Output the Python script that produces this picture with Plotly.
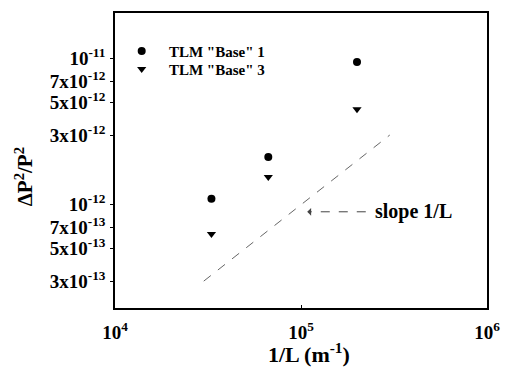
import math
import plotly.graph_objects as go

inv_L = [3.3e4, 6.67e4, 2.0e5]
base1 = [1.1e-12, 2.12e-12, 9.5e-12]
base3 = [6.3e-13, 1.55e-12, 4.5e-12]
slope_x = [3.0e4, 3.0e5]
slope_y = [3.0e-13, 3.0e-12]

y_tickvals = [1e-11, 7e-12, 5e-12, 3e-12, 1e-12, 7e-13, 5e-13, 3e-13]
y_ticktext = ["10<sup>-11</sup>", "7x10<sup>-12</sup>", "5x10<sup>-12</sup>", "3x10<sup>-12</sup>",
              "10<sup>-12</sup>", "7x10<sup>-13</sup>", "5x10<sup>-13</sup>", "3x10<sup>-13</sup>"]
x_tickvals = [1e4, 1e5, 1e6]
x_ticktext = ["10<sup>4</sup>", "10<sup>5</sup>", "10<sup>6</sup>"]

FONT = "Liberation Serif"
B = lambda s: "<b>" + s + "</b>"

fig = go.Figure()
fig.add_trace(go.Scatter(x=inv_L, y=base1, mode="markers", name=B('  TLM "Base" 1'), legend="legend",
                         marker=dict(symbol="circle", size=8, color="black")))
fig.add_trace(go.Scatter(x=inv_L, y=base3, mode="markers", name=B('  TLM "Base" 3'), legend="legend2",
                         marker=dict(symbol="triangle-down", size=8, color="black")))
fig.add_trace(go.Scatter(x=slope_x, y=slope_y, mode="lines", showlegend=False,
                         line=dict(color="#666666", width=1, dash="dash")))

# dashed arrow shaft + arrow head for the "slope 1/L" label
arrow_y = 8.95e-13
fig.add_shape(type="line", xref="x", yref="y", x0=2.23e5, x1=1.12e5, y0=arrow_y, y1=arrow_y,
              line=dict(color="#444444", width=1, dash="dash"))
fig.add_annotation(x=math.log10(1.08e5), y=math.log10(arrow_y),
                   ax=math.log10(1.15e5), ay=math.log10(arrow_y), axref="x", ayref="y",
                   xref="x", yref="y", text="", showarrow=True, arrowhead=1,
                   arrowsize=1.3, arrowwidth=1, arrowcolor="#444444")
fig.add_annotation(x=math.log10(2.45e5), y=math.log10(arrow_y), xref="x", yref="y",
                   text=B("slope 1/L"), showarrow=False, xanchor="left", yanchor="middle",
                   font=dict(family=FONT, size=20, color="black"))

# axis titles
fig.add_annotation(xref="paper", yref="paper", x=(314 - 115) / 382, y=(308 - 353) / 297,
                   text=B("1/L (m<sup>-1</sup>)"), showarrow=False, xanchor="center", yanchor="middle",
                   font=dict(family=FONT, size=22, color="black"))
fig.add_annotation(xref="paper", yref="paper", x=(22 - 115) / 382, y=(308 - 176) / 297,
                   text=B("ΔP<sup>2</sup>/P<sup>2</sup>"), showarrow=False, textangle=-90,
                   xanchor="center", yanchor="middle",
                   font=dict(family=FONT, size=21, color="black"))

legfont = dict(family=FONT, size=15, color="black")
fig.update_layout(
    width=511, height=368,
    margin=dict(l=115, r=14, t=11, b=60),
    paper_bgcolor="white", plot_bgcolor="white",
    font=dict(family=FONT, size=15, color="black"),
    showlegend=True,
    legend=dict(x=0.018, y=(308 - 33) / 297, xanchor="left", yanchor="top", bgcolor="rgba(0,0,0,0)",
                font=legfont, borderwidth=0),
    legend2=dict(x=0.018, y=(308 - 51) / 297, xanchor="left", yanchor="top", bgcolor="rgba(0,0,0,0)",
                 font=legfont, borderwidth=0),
)
fig.update_xaxes(type="log", range=[4, 6], tickvals=x_tickvals, ticktext=[B(t) for t in x_ticktext],
                 showgrid=False, zeroline=False, showline=True, linecolor="black", linewidth=1.5,
                 mirror=True, ticks="inside", ticklen=3, tickcolor="black", ticklabelstandoff=6,
                 tickfont=dict(family=FONT, size=19))
fig.update_yaxes(type="log", range=[-12.707, -10.687], tickvals=y_tickvals, ticktext=[B(t) for t in y_ticktext],
                 showgrid=False, zeroline=False, showline=True, linecolor="black", linewidth=1.5,
                 mirror=True, ticks="outside", ticklen=3, tickcolor="black", ticklabelstandoff=1,
                 tickfont=dict(family=FONT, size=19))

fig.write_html("out.html")
